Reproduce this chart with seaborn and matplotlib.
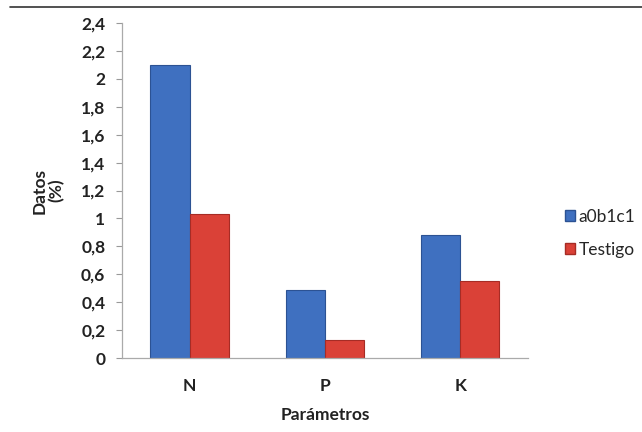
import pandas as pd
import numpy as np
import matplotlib.pyplot as plt
import seaborn as sns
from matplotlib.lines import Line2D

# data
parametros = ["N", "P", "K"]
a0b1c1 = [2.10, 0.49, 0.88]
testigo = [1.03, 0.13, 0.55]
series = ["a0b1c1", "Testigo"]
yticks = [0, 0.2, 0.4, 0.6, 0.8, 1, 1.2, 1.4, 1.6, 1.8, 2, 2.2, 2.4]

df = pd.DataFrame({
    "Parámetros": parametros * 2,
    "Datos": a0b1c1 + testigo,
    "Serie": [series[0]] * 3 + [series[1]] * 3,
})

sns.set_theme(style="white")
plt.rcParams["font.family"] = ["Lato", "DejaVu Sans"]

COLORS = {"a0b1c1": "#3F70C0", "Testigo": "#DA4137"}
EDGES = {"a0b1c1": "#2C5293", "Testigo": "#A62C25"}

fig = plt.figure(figsize=(6.42, 4.32), dpi=100)
ax = fig.add_axes([0.19, 0.171, 0.632, 0.776])

sns.barplot(data=df, x="Parámetros", y="Datos", hue="Serie", palette=COLORS,
            width=0.58, gap=0, saturation=1, ax=ax, legend=False)

for cont, s in zip(ax.containers, series):
    for bar in cont:
        bar.set_edgecolor(EDGES[s])
        bar.set_linewidth(0.8)

ax.set_ylim(0, 2.4)
ax.set_yticks(yticks)
ax.set_yticklabels([("%g" % v).replace(".", ",") for v in yticks],
                   fontsize=12.5, fontweight="bold", color="#222222")
ax.tick_params(axis="y", length=4, width=0.8, color="#999999", left=True, pad=8)
ax.tick_params(axis="x", length=0, pad=14, labelsize=12.5, labelcolor="#222222")
for lbl in ax.get_xticklabels():
    lbl.set_fontweight("bold")

for side in ["top", "right"]:
    ax.spines[side].set_visible(False)
for side in ["left", "bottom"]:
    ax.spines[side].set_color("#AAAAAA")
    ax.spines[side].set_linewidth(0.9)

ax.set_xlabel("Parámetros", fontsize=12.5, fontweight="bold", labelpad=10, color="#222222")
ax.set_ylabel("Datos\n(%)", fontsize=12.5, fontweight="bold", labelpad=12,
              color="#222222", linespacing=1.0)

handles = [plt.Rectangle((0, 0), 1, 1, facecolor=COLORS[s], edgecolor=EDGES[s]) for s in series]
fig.legend(handles, series, loc="center left", bbox_to_anchor=(0.855, 0.46),
           frameon=False, fontsize=12.5, handlelength=0.6, handleheight=0.6,
           handletextpad=0.2, labelspacing=1.0)

fig.add_artist(Line2D([0.015, 1.0], [0.984, 0.984], color="#333333", linewidth=1.2,
                      transform=fig.transFigure))

fig.savefig("out.png", dpi=100)
